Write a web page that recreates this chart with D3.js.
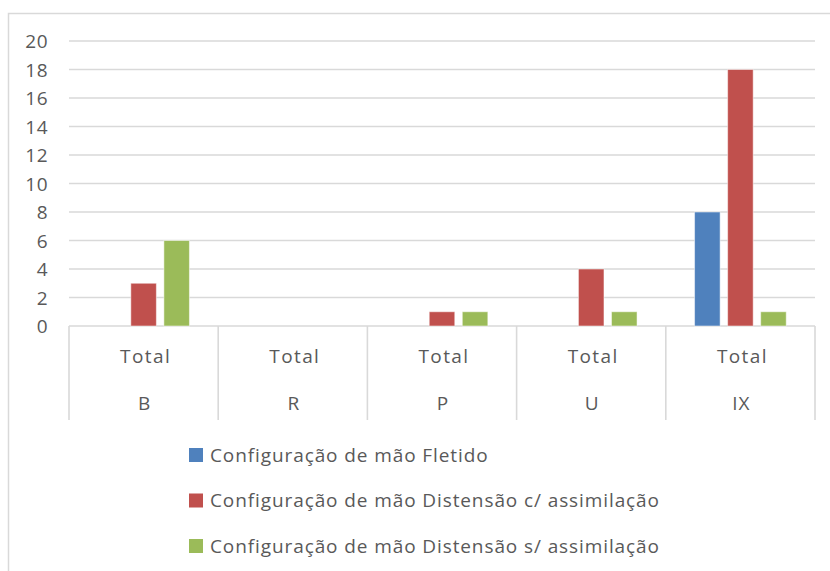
<!DOCTYPE html>
<html>
<head>
<meta charset="utf-8">
<script src="https://cdn.jsdelivr.net/npm/d3@7"></script>
<style>
  html, body { margin: 0; padding: 0; background: #fff; }
  svg text { font-family: "Open Sans", "Noto Sans", sans-serif; fill: #595959; }
</style>
</head>
<body>
<svg id="chart" width="830" height="571"></svg>
<script>
// Categories (second level of the axis) and their group label (first level)
const categories = ["B", "R", "P", "U", "IX"];
const groupLabel = "Total";

// Series names and values per category
const seriesNames = [
  "Configuração de mão Fletido",
  "Configuração de mão Distensão c/ assimilação",
  "Configuração de mão Distensão s/ assimilação"
];
const fletido    = [0, 0, 0, 0, 8];
const comAssim   = [3, 0, 1, 4, 18];
const semAssim   = [6, 0, 1, 1, 1];
const seriesValues = [fletido, comAssim, semAssim];
const seriesColors = ["#4F81BD", "#C0504D", "#9BBB59"];

// Value axis ticks
const yTicks = [0, 2, 4, 6, 8, 10, 12, 14, 16, 18, 20];

const svg = d3.select("#chart");
const gridColor = "#D9D9D9";

// Chart frame
svg.append("rect")
  .attr("x", 8.5).attr("y", 13.5)
  .attr("width", 840).attr("height", 600)
  .attr("fill", "none")
  .attr("stroke", gridColor)
  .attr("stroke-width", 1.5);

const plot = { left: 69, right: 815, top: 41, bottom: 326 };

const y = d3.scaleLinear().domain([0, 20]).range([plot.bottom, plot.top]);
const x0 = d3.scaleBand().domain(categories).range([plot.left, plot.right]).padding(0);
const x1 = d3.scaleBand().domain(d3.range(seriesNames.length))
  .range([0, x0.bandwidth()])
  .paddingInner(0.227)
  .paddingOuter(0.87);

// Horizontal gridlines
svg.append("g")
  .selectAll("line")
  .data(yTicks)
  .join("line")
  .attr("x1", plot.left).attr("x2", plot.right)
  .attr("y1", d => y(d)).attr("y2", d => y(d))
  .attr("stroke", gridColor)
  .attr("stroke-width", 1.6);

// Value axis labels
const yAxis = d3.axisLeft(y).tickValues(yTicks).tickSize(0).tickPadding(0);
svg.append("g")
  .attr("transform", `translate(${plot.left - 21},0)`)
  .call(yAxis)
  .call(g => g.select(".domain").remove())
  .call(g => g.selectAll("text")
    .attr("font-size", 19)
    .attr("fill", "#595959")
    .attr("font-family", "'Open Sans', sans-serif")
    .attr("letter-spacing", 0.5)
    .attr("dy", "0.35em"));

// Bars
const barData = [];
categories.forEach((c, ci) => {
  seriesValues.forEach((vals, si) => {
    if (vals[ci] > 0) barData.push({ cat: c, s: si, v: vals[ci] });
  });
});
svg.append("g")
  .selectAll("rect")
  .data(barData)
  .join("rect")
  .attr("x", d => x0(d.cat) + x1(d.s))
  .attr("y", d => y(d.v))
  .attr("width", x1.bandwidth())
  .attr("height", d => y(0) - y(d.v))
  .attr("fill", d => seriesColors[d.s])
  .attr("stroke", "#ffffff")
  .attr("stroke-opacity", 0.5)
  .attr("stroke-width", 1);

// Category axis: separators and two label rows
const axisBottom = 420;
const bounds = categories.map(c => x0(c)).concat([plot.right]);
svg.append("g")
  .selectAll("line")
  .data(bounds)
  .join("line")
  .attr("x1", d => d).attr("x2", d => d)
  .attr("y1", plot.bottom).attr("y2", axisBottom)
  .attr("stroke", gridColor)
  .attr("stroke-width", 1.6);

const labels = svg.append("g");
labels.selectAll("text.grp")
  .data(categories)
  .join("text")
  .attr("class", "grp")
  .attr("x", d => x0(d) + x0.bandwidth() / 2 + 2)
  .attr("y", 356)
  .attr("dy", "0.35em")
  .attr("text-anchor", "middle")
  .attr("font-size", 19)
  .attr("letter-spacing", 1.4)
  .text(groupLabel);
labels.selectAll("text.cat")
  .data(categories)
  .join("text")
  .attr("class", "cat")
  .attr("x", d => x0(d) + x0.bandwidth() / 2 + 1)
  .attr("y", 403)
  .attr("dy", "0.35em")
  .attr("text-anchor", "middle")
  .attr("font-size", 19)
  .attr("letter-spacing", 1)
  .text(d => d);

// Legend
const legend = svg.append("g");
const legendRows = legend.selectAll("g")
  .data(seriesNames)
  .join("g")
  .attr("transform", (d, i) => `translate(189, ${455 + i * 45.5})`);
legendRows.append("rect")
  .attr("x", 0).attr("y", -7)
  .attr("width", 14).attr("height", 14)
  .attr("fill", (d, i) => seriesColors[i]);
legendRows.append("text")
  .attr("x", 21)
  .attr("dy", "0.35em")
  .attr("font-size", 19)
  .attr("letter-spacing", 0.9)
  .text(d => d);
</script>
</body>
</html>
